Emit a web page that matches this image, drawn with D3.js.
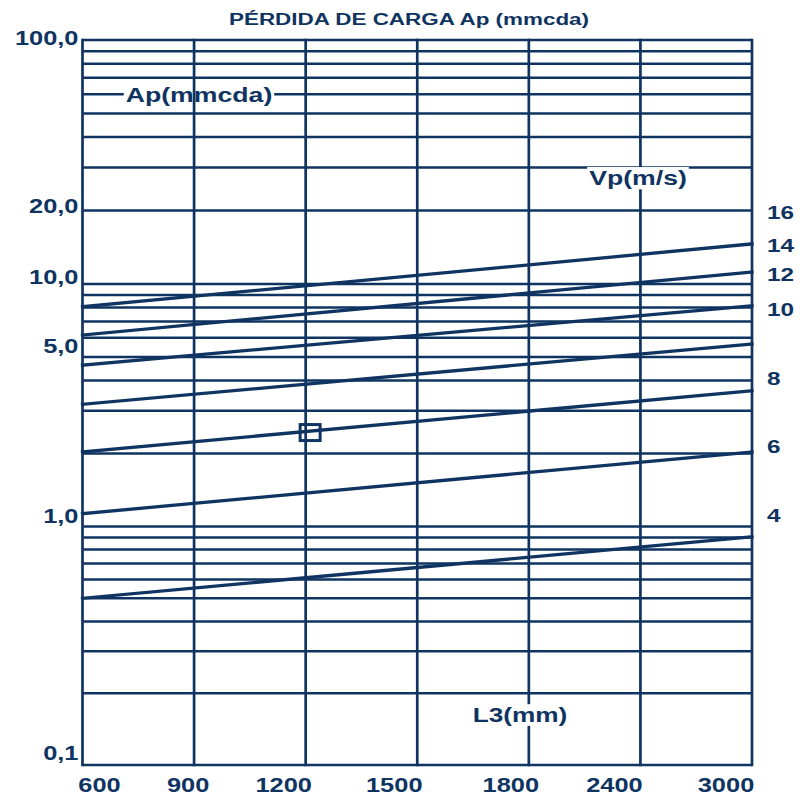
<!DOCTYPE html>
<html>
<head>
<meta charset="utf-8">
<script src="https://cdn.jsdelivr.net/npm/d3@7"></script>
<style>
  html, body { margin: 0; padding: 0; background: #ffffff; }
  svg { display: block; }
  text { font-family: "Liberation Sans", Arial, Helvetica, sans-serif; font-weight: bold; fill: #0f3461; }
</style>
</head>
<body>
<svg id="chart" width="800" height="799"></svg>
<script>
(function () {
// ---------------- DATA ----------------
const l3Categories = ["600", "900", "1200", "1500", "1800", "2400", "3000"];
const apTickValues = [100, 20, 10, 5, 1, 0.1];
const apTickLabels = ["100,0", "20,0", "10,0", "5,0", "1,0", "0,1"];
const vpLabels = ["16", "14", "12", "10", "8", "6", "4"];
const vpLabelAp = [19.8, 14.4, 11.0, 7.9, 4.1, 2.15, 1.12];
// Vp lines: Ap (mmcda) at L3 = 600 and at L3 = 3000
const vpLineStartAp = [8.06, 6.16, 4.63, 3.19, 2.03, 1.13, 0.50];
const vpLineEndAp   = [14.6, 11.2, 8.14, 5.66, 3.63, 2.03, 0.906];
// marked point: position along L3 axis (category index) and Ap
const markerL3Index = [2.04];
const markerAp = [2.44];

const titleText = "PÉRDIDA DE CARGA Ap (mmcda)";
const apAxisTitle = "Ap(mmcda)";
const vpAxisTitle = "Vp(m/s)";
const l3AxisTitle = "L3(mm)";

// ---------------- LAYOUT ----------------
const COLOR = "#0f3461";
const pLeft = 82.5, pRight = 752, pTop = 40, pBottom = 765;
const xLabelNudge = [17, -6, -22, -23, -18, -26, -26];
const yLabelNudge = [5, 2, -0.5, -3.5, -3.5, -5.5];

const svg = d3.select("#chart");

const x = d3.scaleLinear().domain([0, l3Categories.length - 1]).range([pLeft, pRight]);
const y = d3.scaleLog().domain([0.1, 1, 10, 100]).range([pBottom, 526.5, 284, pTop]);

function addLabel(g, txt, px, py, size, anchor, bg, sx) {
  const grp = g.append("g").attr("transform", `translate(${px},${py}) scale(${sx},1)`);
  const t = grp.append("text").attr("text-anchor", anchor).style("font-size", size + "px").text(txt);
  if (bg) {
    const b = t.node().getBBox();
    grp.insert("rect", "text")
      .attr("x", b.x - 1.5).attr("y", b.y + 1).attr("width", b.width + 3).attr("height", b.height - 1)
      .attr("fill", "#ffffff");
  }
  return grp;
}

// horizontal grid (log ticks)
const gridH = svg.append("g");
gridH.selectAll("line").data(y.ticks()).join("line")
  .attr("x1", pLeft).attr("x2", pRight)
  .attr("y1", d => y(d)).attr("y2", d => y(d))
  .attr("stroke", COLOR).attr("stroke-width", 2.5);

// Ap axis title (hides horizontal line beneath)
const apLayer = svg.append("g");
addLabel(apLayer, apAxisTitle, 199, 101.5, 20.5, "middle", true, 1.3);

// vertical grid
const gridV = svg.append("g");
gridV.selectAll("line").data(l3Categories.map((c, i) => i)).join("line")
  .attr("x1", d => x(d)).attr("x2", d => x(d))
  .attr("y1", pTop - 1.25).attr("y2", pBottom + 1.25)
  .attr("stroke", COLOR).attr("stroke-width", 2.7);

// Vp lines
const lineGen = d3.line().x(d => x(d[0])).y(d => y(d[1]));
const linesData = vpLineStartAp.map((s, i) => [[0, s], [l3Categories.length - 1, vpLineEndAp[i]]]);
svg.append("g").selectAll("path").data(linesData).join("path")
  .attr("d", lineGen).attr("fill", "none")
  .attr("stroke", COLOR).attr("stroke-width", 3.3).attr("stroke-linecap", "square");

// marker square
svg.append("g").selectAll("rect").data(markerL3Index.map((m, i) => [m, markerAp[i]])).join("rect")
  .attr("x", d => x(d[0]) - 10).attr("y", d => y(d[1]) - 8)
  .attr("width", 20).attr("height", 16)
  .attr("fill", "none").attr("stroke", COLOR).attr("stroke-width", 3);

// annotations with white background
const ann = svg.append("g");
addLabel(ann, vpAxisTitle, 638, 185, 20.5, "middle", true, 1.3);
addLabel(ann, l3AxisTitle, 520, 721.5, 20.5, "middle", true, 1.28);

// Y tick labels
const yLab = svg.append("g");
apTickValues.forEach((v, i) => addLabel(yLab, apTickLabels[i], 78.5, y(v) + yLabelNudge[i], 20.5, "end", false, 1.24));

// X tick labels
const xLab = svg.append("g");
l3Categories.forEach((c, i) => addLabel(xLab, c, x(i) + xLabelNudge[i], 791.5, 20.5, "middle", false, 1.24));

// Vp value labels (right)
const vLab = svg.append("g");
vpLabels.forEach((c, i) => addLabel(vLab, c, 767, y(vpLabelAp[i]) + 7, 19, "start", false, 1.28));

// Title
addLabel(svg, titleText, 409, 25, 17, "middle", false, 1.32);
})();
</script>
</body>
</html>
